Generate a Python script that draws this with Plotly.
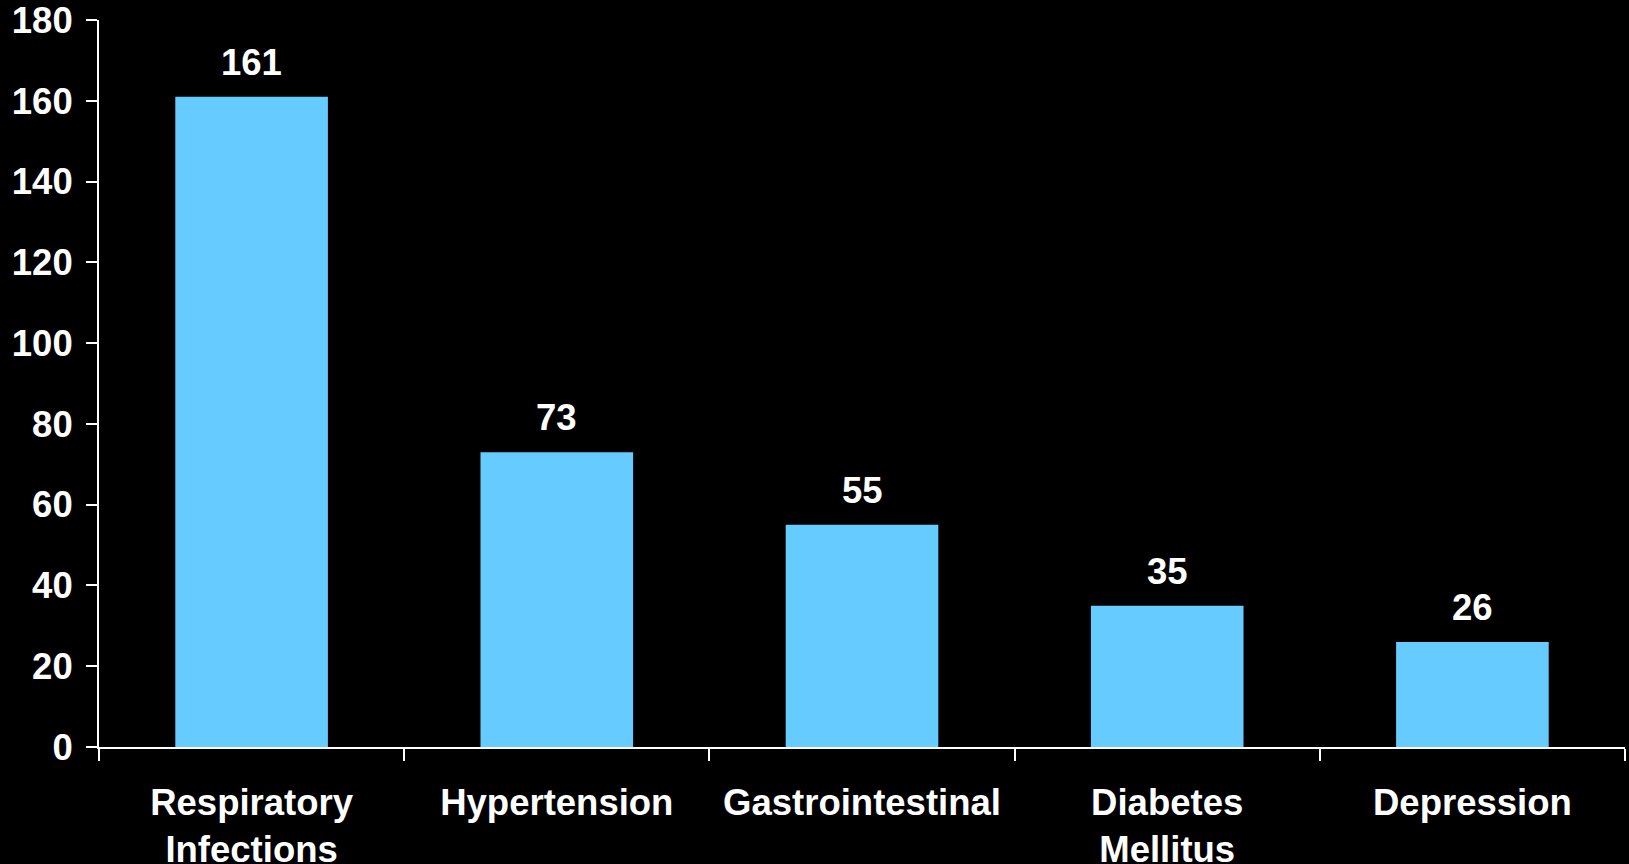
import plotly.graph_objects as go

categories = ["Respiratory<br>Infections", "Hypertension", "Gastrointestinal",
              "Diabetes<br>Mellitus", "Depression"]
counts = [161, 73, 55, 35, 26]
y_ticks = [0, 20, 40, 60, 80, 100, 120, 140, 160, 180]

BAR_COLOR = "#66CCFF"
FONT = dict(family="Liberation Sans, Arial, sans-serif", size=36.5, color="white", weight="bold")

fig = go.Figure(
    go.Bar(
        x=categories,
        y=counts,
        marker=dict(color=BAR_COLOR, line=dict(width=0)),
        hoverinfo="skip",
    )
)

# value labels above each bar
for cat, val in zip(categories, counts):
    fig.add_annotation(
        x=cat, y=val, text=str(val), showarrow=False,
        xanchor="center", yanchor="bottom", yshift=12, font=FONT,
    )

fig.update_layout(
    width=1629,
    height=864,
    paper_bgcolor="black",
    plot_bgcolor="black",
    margin=dict(l=99, r=4, t=20, b=117),
    bargap=0.5,
    showlegend=False,
    font=FONT,
    xaxis=dict(
        showline=True, linecolor="white", linewidth=2, automargin=False,
        ticks="outside", tickson="boundaries", ticklen=12, tickwidth=2, tickcolor="white",
        showgrid=False, zeroline=False, tickfont=FONT, ticklabelstandoff=22,
    ),
    yaxis=dict(
        range=[0, 180.001], tickvals=y_ticks, automargin=False,
        showline=True, linecolor="white", linewidth=2,
        ticks="outside", ticklen=11, tickwidth=2, tickcolor="white",
        showgrid=False, zeroline=False, tickfont=FONT, ticklabelstandoff=6,
        ticklabeloverflow="allow",
    ),
)

fig.write_html("out.html")
